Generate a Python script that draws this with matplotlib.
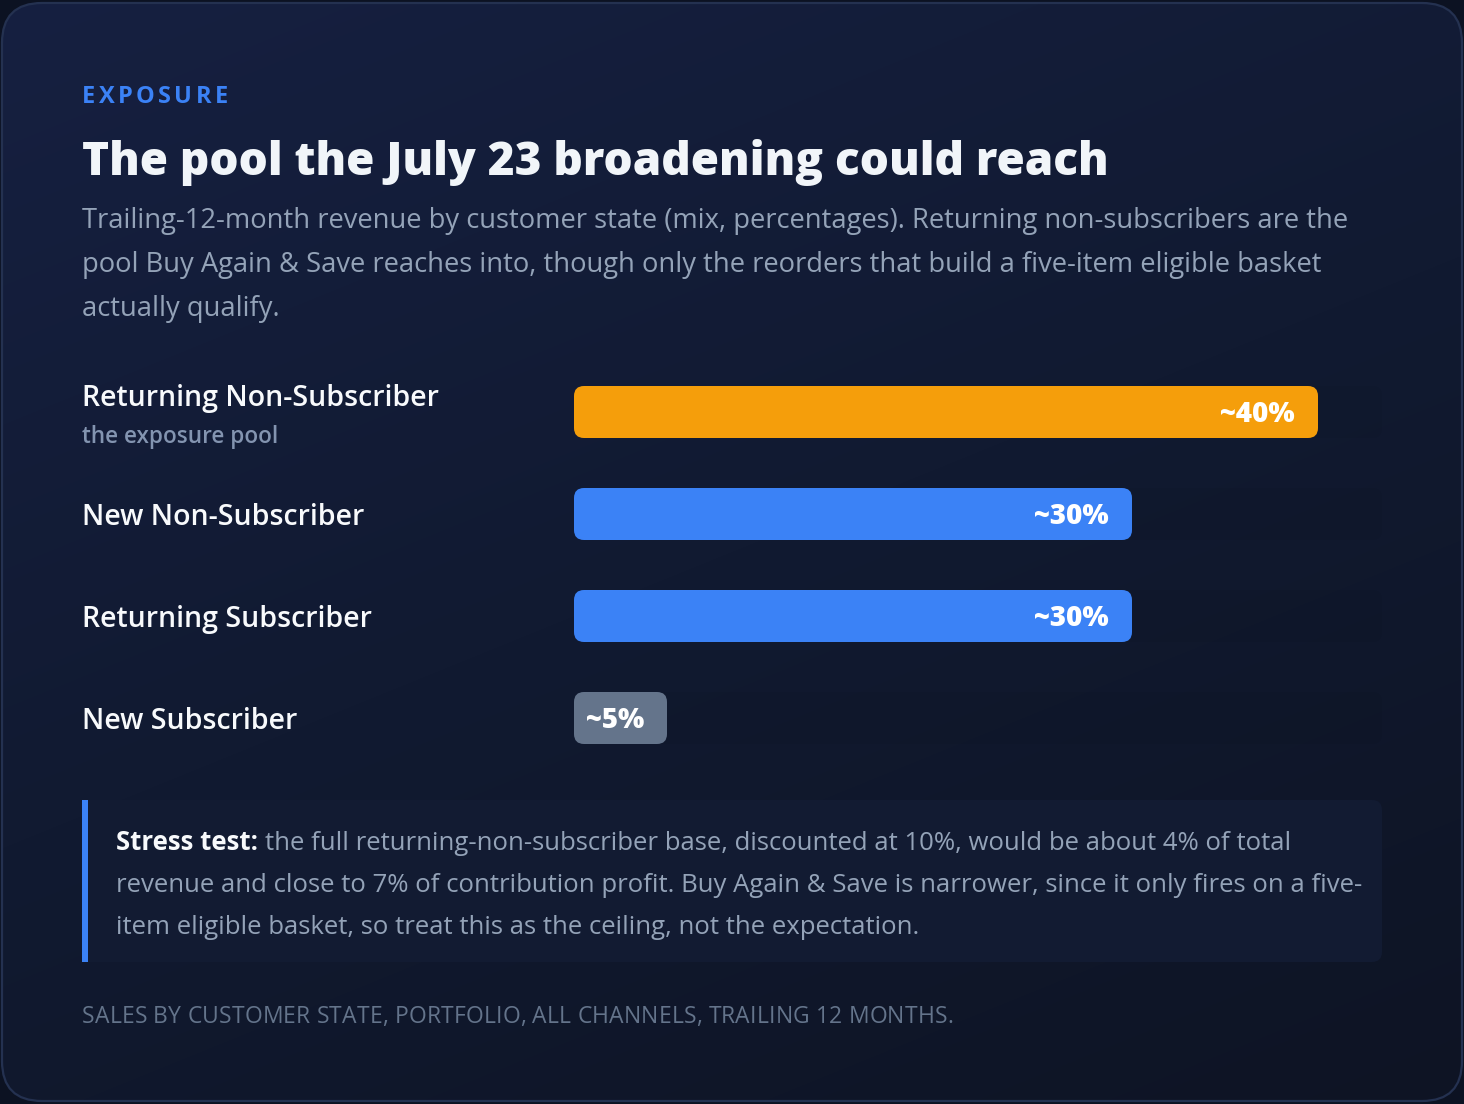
import matplotlib
matplotlib.use("Agg")
import matplotlib.pyplot as plt
import numpy as np
from matplotlib.patches import FancyBboxPatch, Rectangle
from matplotlib.colors import LinearSegmentedColormap

W, H = 1464, 1104

# data
categories = ["Returning Non-Subscriber", "New Non-Subscriber", "Returning Subscriber", "New Subscriber"]
notes = ["the exposure pool", "", "", ""]
shares = [40, 30, 30, 5]
value_labels = ["~40%", "~30%", "~30%", "~5%"]
bar_colors = ["#f59e0b", "#3b82f6", "#3b82f6", "#64748b"]

eyebrow = "EXPOSURE"
title = "The pool the July 23 broadening could reach"
subtitle_lines = [
    "Trailing-12-month revenue by customer state (mix, percentages). Returning non-subscribers are the",
    "pool Buy Again & Save reaches into, though only the reorders that build a five-item eligible basket",
    "actually qualify.",
]
callout_lead = "Stress test:"
callout_lines = [
    "the full returning-non-subscriber base, discounted at 10%, would be about 4% of total",
    "revenue and close to 7% of contribution profit. Buy Again & Save is narrower, since it only fires on a five-",
    "item eligible basket, so treat this as the ceiling, not the expectation.",
]
footer = "SALES BY CUSTOMER STATE, PORTFOLIO, ALL CHANNELS, TRAILING 12 MONTHS."

BODY = "Open Sans"
plt.rcParams['font.family'] = [BODY, 'DejaVu Sans']

fig = plt.figure(figsize=(W / 100, H / 100), dpi=100)
fig.patch.set_facecolor("#0c1222")
bg = fig.add_axes([0, 0, 1, 1])
bg.axis("off")

# card with diagonal gradient
card = FancyBboxPatch((2, 3), W - 4, H - 6, boxstyle="round,pad=0,rounding_size=40",
                      facecolor="none", edgecolor="#243150", lw=1.6, zorder=3)
bg.add_patch(card)
gy, gx = np.mgrid[0:1:300j, 0:1:300j]
grad = np.clip(gx * 0.35 + gy * 0.65, 0, 1)
cmap = LinearSegmentedColormap.from_list("card", ["#162041", "#111a31", "#0e1424"])
im = bg.imshow(grad, cmap=cmap, extent=(0, W, H, 0), aspect="auto", zorder=1, interpolation="bilinear")
im.set_clip_path(card)
bg.set_xlim(0, W)
bg.set_ylim(H, 0)

r = fig.canvas.get_renderer()


def width_of(s, fs, **kw):
    t = bg.text(0, 0, s, fontsize=fs, **kw)
    w = t.get_window_extent(renderer=r).width
    t.remove()
    return w


def fit_size(s, target, fs=20, **kw):
    return fs * target / width_of(s, fs, **kw)


def spaced_text(x, y, s, fs, target, **kw):
    bar = width_of("||", fs, **kw)
    adv = [width_of("|" + c + "|", fs, **kw) - bar for c in s]
    last = width_of(s[-1], fs, **kw)
    spacing = (target - sum(adv[:-1]) - last) / (len(s) - 1)
    for c, a in zip(s, adv):
        if c != " ":
            bg.text(x, y, c, fontsize=fs, ha="left", va="baseline", **kw)
        x += a + spacing


# eyebrow
spaced_text(82, 103, eyebrow, 17, 146, color="#3b82f6", fontweight="bold")

# title
ts = fit_size(title, 1028, 36, fontweight=800)
bg.text(82, 175, title, fontsize=ts, fontweight=800, color="#f1f5f9", va="baseline", zorder=5)

# subtitle
ss = fit_size(subtitle_lines[0], 1268, 20)
for k, line in enumerate(subtitle_lines):
    bg.text(82, 228 + 44 * k, line, fontsize=ss, color="#94a3b8", va="baseline", zorder=5)

# bars axis: rows spaced 102 px, bars 52 px tall, scale 18.6 px per percent
row0, pitch, bar_h = 412, 102, 52
x0, track_w, px_per = 574, 808, 18.6
top = row0 - pitch / 2
ax = fig.add_axes([x0 / W, (H - (top + pitch * len(shares))) / H, track_w / W, pitch * len(shares) / H])
ax.set_xlim(0, track_w / px_per)
ax.set_ylim(len(shares) - 0.5, -0.5)
ax.axis("off")
ax.patch.set_alpha(0)

aspect = px_per / pitch
hh = bar_h / pitch
for i, (v, c, lab) in enumerate(zip(shares, bar_colors, value_labels)):
    ax.add_patch(FancyBboxPatch((0, i - hh / 2), track_w / px_per, hh,
                                boxstyle="round,pad=0,rounding_size=%f" % (10 / px_per),
                                mutation_aspect=aspect, facecolor="#000000", alpha=0.04,
                                edgecolor="none", zorder=1))
    ax.add_patch(FancyBboxPatch((0, i - hh / 2), v, hh,
                                boxstyle="round,pad=0,rounding_size=%f" % (10 / px_per),
                                mutation_aspect=aspect, facecolor=c, edgecolor="none", zorder=2))
    ax.text(v - 23 / px_per, i + 10 / pitch, lab, ha="right", va="baseline", color="white",
            fontsize=20, fontweight=800, zorder=3)

# row labels
ls = fit_size(categories[0], 356, 20, fontweight="semibold")
ns = fit_size(notes[0], 197, 16, fontweight="semibold")
for i, (cat, note) in enumerate(zip(categories, notes)):
    yc = row0 + pitch * i
    if note:
        bg.text(82, yc - 6, cat, fontsize=ls, fontweight="semibold", color="#f8fafc", va="baseline", zorder=5)
        bg.text(82, yc + 31, note, fontsize=ns, fontweight="semibold", color="#8394b0", va="baseline", zorder=5)
    else:
        bg.text(82, yc + 11, cat, fontsize=ls, fontweight="semibold", color="#f8fafc", va="baseline", zorder=5)

# callout
bg.add_patch(FancyBboxPatch((82, 800), 1300, 162, boxstyle="round,pad=0,rounding_size=10",
                            facecolor="#121b32", edgecolor="none", zorder=2))
bg.add_patch(Rectangle((82, 800), 20, 162, facecolor="#121b32", edgecolor="none", zorder=2))
bg.add_patch(Rectangle((82, 800), 6, 162, facecolor="#3b82f6", edgecolor="none", zorder=3))
cs = fit_size(callout_lines[1], 1245, 18)
lead_w = width_of(callout_lead, cs, fontweight="bold")
bg.text(116, 850, callout_lead, fontsize=cs, fontweight="bold", color="#f8fafc", va="baseline", zorder=5)
bg.text(116 + lead_w + cs / 0.72 * 0.27, 850, callout_lines[0], fontsize=cs, color="#94a3b8",
        va="baseline", zorder=5)
for k, line in enumerate(callout_lines[1:], start=1):
    bg.text(116, 850 + 42 * k, line, fontsize=cs, color="#94a3b8", va="baseline", zorder=5)

# footer
spaced_text(82, 1023, footer, 16.5, 871, color="#64748b")

fig.savefig("out.png", dpi=100, facecolor=fig.get_facecolor())
